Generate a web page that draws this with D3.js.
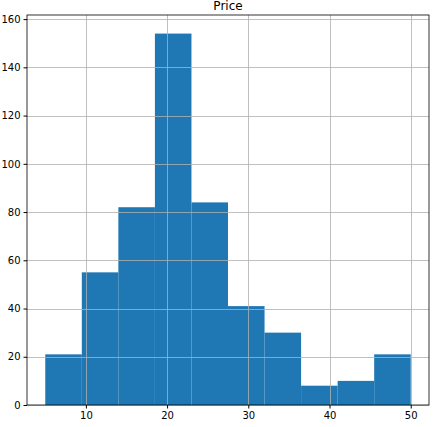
<!DOCTYPE html>
<html>
<head>
<meta charset="utf-8">
<script src="https://cdn.jsdelivr.net/npm/d3@7"></script>
<style>
body { margin: 0; background: #fff; }
text { font-family: "DejaVu Sans", sans-serif; }
</style>
</head>
<body>
<svg id="chart" width="439" height="427"></svg>
<script>
var binEdges = [5, 9.5, 14, 18.5, 23, 27.5, 32, 36.5, 41, 45.5, 50];
var counts = [21, 55, 82, 154, 84, 41, 30, 8, 10, 21];
var xTicks = [10, 20, 30, 40, 50];
var yTicks = [0, 20, 40, 60, 80, 100, 120, 140, 160];
var title = 'Price';

var svg = d3.select('#chart');
var plotLeft = 27, plotRight = 429, plotTop = 15, plotBottom = 405;

var x = d3.scaleLinear().domain([2.75, 52.25]).range([plotLeft, plotRight]);
var y = d3.scaleLinear().domain([0, 161.7]).range([plotBottom, plotTop]);

var bins = counts.map(function (c, i) {
    return { x0: binEdges[i], x1: binEdges[i + 1], n: c };
});

svg.selectAll('rect.bar')
    .data(bins)
    .enter().append('rect')
    .attr('class', 'bar')
    .attr('x', function (d) { return x(d.x0); })
    .attr('width', function (d) { return x(d.x1) - x(d.x0); })
    .attr('y', function (d) { return y(d.n); })
    .attr('height', function (d) { return y(0) - y(d.n); })
    .style('fill', '#1f77b4');

// grid drawn over the bars
var grid = svg.append('g');
grid.selectAll('line.gx')
    .data(xTicks)
    .enter().append('line')
    .attr('x1', function (d) { return Math.round(x(d)) + 0.5; })
    .attr('x2', function (d) { return Math.round(x(d)) + 0.5; })
    .attr('y1', plotTop).attr('y2', plotBottom)
    .attr('stroke', '#b0b0b0').attr('stroke-width', 0.8);
grid.selectAll('line.gy')
    .data(yTicks)
    .enter().append('line')
    .attr('y1', function (d) { return Math.round(y(d)) + 0.5; })
    .attr('y2', function (d) { return Math.round(y(d)) + 0.5; })
    .attr('x1', plotLeft).attr('x2', plotRight)
    .attr('stroke', '#b0b0b0').attr('stroke-width', 0.8);

var xAxis = d3.axisBottom(x).tickValues(xTicks).tickSize(3.5).tickPadding(3);
var yAxis = d3.axisLeft(y).tickValues(yTicks).tickSize(3.5).tickPadding(3);

var gx = svg.append('g').attr('transform', 'translate(0,' + plotBottom + ')').call(xAxis);
var gy = svg.append('g').attr('transform', 'translate(' + plotLeft + ',0)').call(yAxis);
[gx, gy].forEach(function (g) {
    g.select('.domain').remove();
    g.selectAll('text').style('font-size', '10px').attr('fill', '#000');
    g.selectAll('line').attr('stroke', '#000');
});

svg.append('rect')
    .attr('x', plotLeft).attr('y', plotTop)
    .attr('width', plotRight - plotLeft).attr('height', plotBottom - plotTop)
    .attr('fill', 'none').attr('stroke', '#000').attr('stroke-width', 0.8);

svg.append('text')
    .attr('x', (plotLeft + plotRight) / 2)
    .attr('y', 10)
    .attr('text-anchor', 'middle')
    .style('font-size', '12px')
    .text(title);
</script>
</body>
</html>
